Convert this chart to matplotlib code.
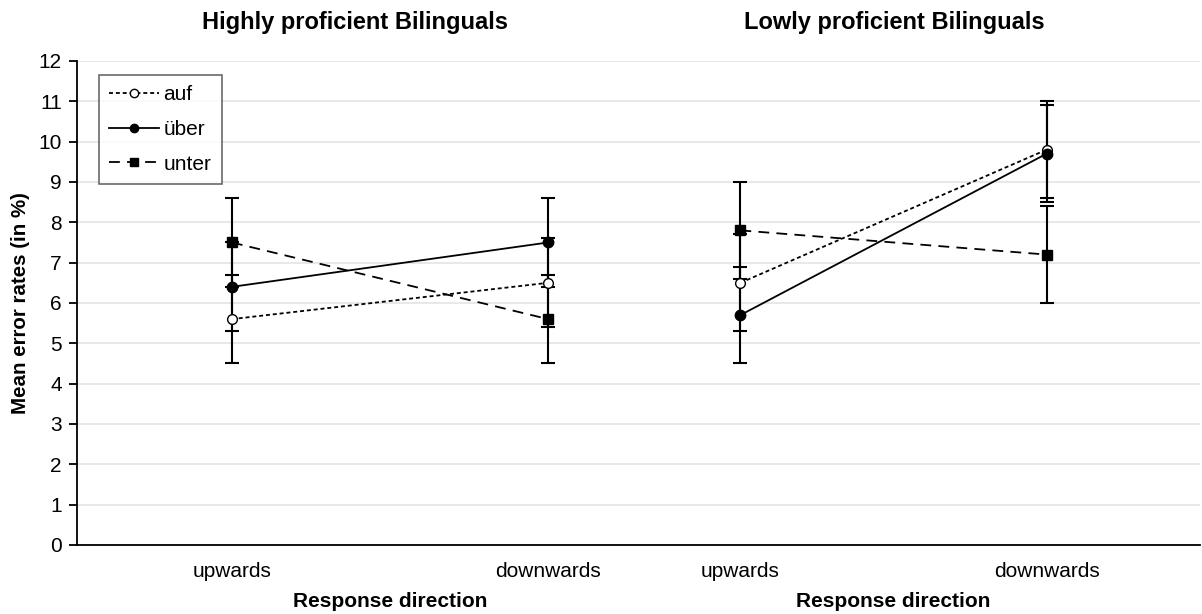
import matplotlib.pyplot as plt
from matplotlib.lines import Line2D
import numpy as np

plt.rcParams['font.family'] = ['Liberation Sans', 'DejaVu Sans']

groups = ["Highly proficient Bilinguals", "Lowly proficient Bilinguals"]
directions = ["upwards", "downwards"]

# mean error rates (%) per group: [upwards, downwards]
auf = [[5.6, 6.5], [6.5, 9.8]]
ueber = [[6.4, 7.5], [5.7, 9.7]]
unter = [[7.5, 5.6], [7.8, 7.2]]

# error bar half-widths per group
err = [[1.1, 1.1], [1.2, 1.2]]

# x positions of the two directions within each group
xpos = [np.array([0.0, 1.0]), np.array([1.608, 2.576])]

fig = plt.figure(figsize=(12.02, 6.14), dpi=100)
ax = fig.add_axes([0.064, 0.1124, 0.934, 0.7883])

styles = [
    ("auf", auf, dict(linestyle=(0, (2.2, 1.6)), marker='o', mfc='white', mec='black', ms=7)),
    ("über", ueber, dict(linestyle='-', marker='o', mfc='black', mec='black', ms=7.5)),
    ("unter", unter, dict(linestyle=(0, (6, 4)), marker='s', mfc='black', mec='black', ms=7)),
]

handles = []
for name, vals, kw in styles:
    for g in range(2):
        ax.errorbar(xpos[g], vals[g], yerr=err[g], color='black', lw=1.3,
                    elinewidth=1.5, capsize=5, capthick=1.5, zorder=3, **kw)
    h = dict(kw)
    h['ms'] = 6
    handles.append(Line2D([], [], color='black', lw=1.3, label=name, **h))

ax.set_ylim(0, 12)
ax.set_xlim(-0.49, 3.06)
ax.set_yticks(range(0, 13))
ax.tick_params(axis='y', labelsize=15, length=6, width=1.3, direction='out', pad=5)
ax.tick_params(axis='x', length=0, labelsize=15, pad=12)
ax.set_xticks(np.concatenate(xpos))
ax.set_xticklabels(directions * 2)
ax.yaxis.grid(True, color='#e4e4e4', lw=1.2)
ax.set_axisbelow(True)
for s in ['top', 'right']:
    ax.spines[s].set_visible(False)
ax.spines['left'].set_linewidth(1.3)
ax.spines['bottom'].set_linewidth(1.3)

ax.set_ylabel("Mean error rates (in %)", fontsize=14.8, fontweight='bold', labelpad=6)

# group titles and axis captions
for g, (xt, title) in enumerate(zip([355 / 1202, 894 / 1202], groups)):
    xc = ax.transData.transform((xpos[g].mean(), 0))[0] / fig.bbox.width
    fig.text(xt, 0.964, title, ha='center', va='center', fontsize=17, fontweight='bold')
    fig.text(xc, 0.021, "Response direction", ha='center', va='center',
             fontsize=15, fontweight='bold')

leg = ax.legend(handles=handles, loc='upper left', bbox_to_anchor=(0.0196, 0.971),
                borderaxespad=0, fontsize=15, frameon=True, fancybox=False,
                edgecolor='#444444', handlelength=2.4, handletextpad=0.2,
                labelspacing=0.75, borderpad=0.5)
leg.get_frame().set_linewidth(1.2)

fig.savefig("out.png", dpi=100)
